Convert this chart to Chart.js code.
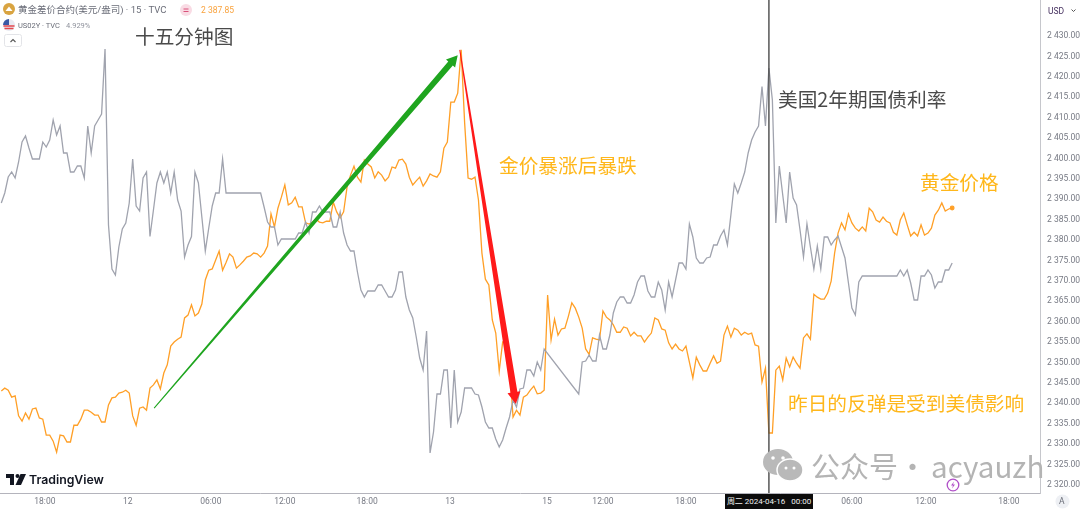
<!DOCTYPE html>
<html>
<head>
<meta charset="utf-8">
<title>十五分钟图</title>
<script src="https://cdn.jsdelivr.net/npm/chart.js@4"></script>
<style>
  html, body { margin: 0; padding: 0; background: #fff; }
  #wrap { position: relative; width: 1080px; height: 510px; overflow: hidden; font-family: Roboto, "Noto Sans CJK SC", sans-serif; }
  #wrap canvas { position: absolute; left: 0; top: 0; }
  .txt { position: absolute; white-space: nowrap; line-height: 1; }
  .big { font-family: "Noto Sans CJK SC", sans-serif; font-size: 19.7px; }
  .dark { color: #4a4a4a; }
  .gold { color: #ffb71b; }
  .legend { font-family: Roboto, "Noto Sans CJK SC", sans-serif; color: #6a6d78; }
  .mark { font-family: "Noto Sans CJK SC", sans-serif; font-size: 29px; color: #b4b4b4; }
  svg { position: absolute; }
</style>
</head>
<body>
<div id="wrap">
  <canvas id="chart" width="1080" height="510"></canvas>

  <!-- legend -->
  <svg style="left:3px;top:3px" width="12" height="12"><circle cx="6" cy="6" r="6" fill="#d9a441"/><path d="M2.5 8h7L6 3.5z" fill="#fff"/></svg>
  <div class="txt legend" style="left:18px;top:5px;font-size:9.5px">黄金差价合约(美元/盎司) · 15 · TVC</div>
  <svg style="left:180px;top:4px" width="12" height="12"><circle cx="6" cy="6" r="6" fill="#f9dbe4"/><path d="M3.5 5h5M3.5 7.5h5" stroke="#d9517a" stroke-width="1"/></svg>
  <div class="txt" style="left:201px;top:6px;font-size:8.5px;color:#f9a23c">2 387.85</div>
  <svg style="left:3px;top:19px" width="12" height="12"><circle cx="6" cy="6" r="6" fill="#e8eaf2"/><path d="M0.5 7h11M1.5 9.5h9" stroke="#e5484d" stroke-width="1.4"/><path d="M6 0a6 6 0 0 0-6 6h6z" fill="#3c5aa6"/></svg>
  <div class="txt legend" style="left:18px;top:22px;font-size:7.5px">US02Y · TVC</div>
  <div class="txt" style="left:66px;top:22px;font-size:7.5px;color:#8f929c">4.929%</div>
  <svg style="left:4px;top:34px" width="18" height="13"><rect x="0.5" y="0.5" width="17" height="12" rx="2" fill="#fff" stroke="#e3e4e8"/><path d="M6.5 8l2.5-2.5 2.5 2.5" fill="none" stroke="#555" stroke-width="1.1"/></svg>

  <!-- notes on the chart -->
  <div class="txt big dark" style="left:135px;top:26px">十五分钟图</div>
  <div class="txt big dark" style="left:778px;top:89px">美国2年期国债利率</div>
  <div class="txt big gold" style="left:499px;top:155px">金价暴涨后暴跌</div>
  <div class="txt big gold" style="left:920px;top:172px">黄金价格</div>
  <div class="txt big gold" style="left:788px;top:393px">昨日的反弹是受到美债影响</div>

  <!-- watermark -->
  <svg style="left:762px;top:448px" width="42" height="36" viewBox="0 0 42 36">
    <ellipse cx="16" cy="14" rx="15" ry="13" fill="#b9b9b9"/>
    <ellipse cx="28" cy="22" rx="13" ry="11" fill="#b9b9b9" stroke="#fff" stroke-width="1.5"/>
    <circle cx="11" cy="10" r="1.8" fill="#fff"/><circle cx="21" cy="10" r="1.8" fill="#fff"/>
    <circle cx="24" cy="20" r="1.5" fill="#fff"/><circle cx="32" cy="20" r="1.5" fill="#fff"/>
  </svg>
  <div class="txt mark" style="left:811px;top:451px">公众号</div>
  <div class="txt mark" style="left:898px;top:451px">·</div>
  <div class="txt mark" style="left:931px;top:451px;font-size:29.6px">acyauzh</div>

  <!-- tradingview mark -->
  <svg style="left:6px;top:474px" width="20" height="12" viewBox="0 0 20 12"><path d="M0 0h8v11H4V4H0z" fill="#131722"/><circle cx="11.5" cy="2" r="2" fill="#131722"/><path d="M14.5 0H20l-5 11H9.5z" fill="#131722"/></svg>
  <div class="txt" style="left:29px;top:474px;font-family:Inter,sans-serif;font-weight:600;font-size:12.3px;color:#131722">TradingView</div>

  <!-- price axis bits -->
  <div class="txt" style="left:1048px;top:7px;font-size:8.5px;color:#45305f">USD</div>
  <svg style="left:1070px;top:8px" width="8" height="6"><path d="M1.5 1.5l2 2 2-2" fill="none" stroke="#555" stroke-width="1"/></svg>
  <svg style="left:1055px;top:494px" width="15" height="15"><circle cx="7.5" cy="7.5" r="7" fill="#eef0f4"/></svg>
  <div class="txt" style="left:1059px;top:497px;font-size:8.5px;color:#6a6d78">A</div>

  <!-- lightning mark -->
  <svg style="left:946px;top:478px" width="14" height="14"><circle cx="7" cy="7" r="5.8" fill="#fff" stroke="#b04fc8" stroke-width="1.3"/><path d="M8 3.5L5 7.5h2l-1 3 3-4H7z" fill="#b04fc8"/></svg>

  <!-- crosshair date -->
  <div class="txt" style="left:725px;top:494px;width:88px;height:15px;background:#0c0c0c;color:#f0f0f0;font-size:8px;line-height:15px;text-align:center">周二 2024-04-16 &nbsp; 00:00</div>
</div>

<script>
// --- Data (one value per 15 minute bar) ---
const goldPrices = [
  2343.0, 2343.7, 2343.2, 2341.5, 2341.8, 2336.9, 2335.6, 2337.6, 2336.1, 2338.6,
  2338.8, 2336.4, 2336.1, 2332.2, 2332.2, 2330.7, 2328.0, 2332.2, 2332.0, 2330.5,
  2330.5, 2334.6, 2334.6, 2336.1, 2338.3, 2338.3, 2337.8, 2337.1, 2337.1, 2335.4,
  2335.4, 2339.6, 2341.3, 2341.5, 2342.5, 2342.7, 2343.2, 2342.5, 2336.9, 2334.6,
  2338.8, 2339.1, 2338.3, 2343.7, 2344.5, 2345.7, 2343.5, 2347.4, 2349.4, 2354.0,
  2355.0, 2355.7, 2356.2, 2360.9, 2361.6, 2364.1, 2361.4, 2362.1, 2364.3, 2370.2,
  2372.6, 2372.9, 2375.1, 2377.3, 2372.6, 2374.5, 2376.6, 2375.8, 2373.1, 2373.9,
  2374.8, 2375.8, 2376.1, 2376.8, 2376.6, 2375.8, 2376.8, 2378.5, 2386.4, 2383.2,
  2387.8, 2390.5, 2393.5, 2388.6, 2389.1, 2390.5, 2388.1, 2388.1, 2384.2, 2383.9,
  2384.4, 2385.1, 2384.4, 2384.2, 2384.6, 2384.6, 2389.3, 2386.9, 2385.4, 2386.9,
  2393.0, 2395.9, 2398.1, 2395.4, 2394.2, 2399.6, 2398.6, 2397.9, 2395.2, 2396.7,
  2395.9, 2394.5, 2395.4, 2397.9, 2397.6, 2399.6, 2399.8, 2398.6, 2395.4, 2393.5,
  2394.5, 2395.4, 2393.2, 2394.5, 2396.2, 2395.7, 2395.4, 2396.7, 2402.5, 2404.0,
  2413.8, 2413.8, 2416.0, 2426.6, 2408.7, 2395.2, 2394.9, 2395.4, 2389.8, 2376.8,
  2370.4, 2369.0, 2360.4, 2357.2, 2347.9, 2355.0, 2355.0, 2349.0, 2336.6, 2338.3,
  2337.1, 2341.5, 2342.0, 2343.2, 2344.2, 2342.3, 2342.5, 2343.2, 2366.5, 2355.5,
  2360.6, 2356.7, 2358.2, 2358.4, 2361.3, 2364.6, 2363.3, 2361.1, 2358.4, 2353.3,
  2352.0, 2356.0, 2355.7, 2355.5, 2362.6, 2361.1, 2360.4, 2359.2, 2357.4, 2357.4,
  2358.7, 2358.4, 2356.5, 2357.4, 2356.5, 2356.5, 2355.0, 2356.2, 2357.2, 2360.9,
  2360.4, 2358.2, 2357.9, 2354.8, 2353.3, 2354.5, 2353.3, 2352.8, 2354.0, 2350.1,
  2346.2, 2351.3, 2349.4, 2347.9, 2347.9, 2349.8, 2351.6, 2349.8, 2350.3, 2356.7,
  2358.9, 2356.2, 2358.4, 2357.9, 2356.7, 2357.4, 2356.9, 2357.2, 2354.3, 2354.0,
  2345.2, 2348.6, 2332.7, 2332.7, 2348.1, 2349.1, 2345.7, 2351.1, 2348.9, 2351.3,
  2349.8, 2348.6, 2356.0, 2357.0, 2355.7, 2366.7, 2366.0, 2365.5, 2365.5, 2367.0,
  2369.9, 2376.8, 2381.7, 2384.2, 2382.5, 2386.4, 2384.2, 2382.9, 2382.2, 2383.2,
  2382.2, 2387.8, 2386.9, 2384.9, 2384.4, 2385.6, 2384.6, 2384.2, 2381.9, 2381.2,
  2384.9, 2386.6, 2383.7, 2381.0, 2381.9, 2381.0, 2383.7, 2381.2, 2381.7, 2382.9,
  2386.1, 2387.3, 2389.1, 2387.1, 2387.6, 2387.85
];

const yieldValues = [
  4.9534, 4.9574, 4.9638, 4.9658, 4.9634, 4.9698, 4.9778, 4.9802, 4.9754, 4.971,
  4.971, 4.971, 4.9778, 4.9758, 4.9786, 4.9866, 4.9806, 4.9842, 4.9734, 4.9734,
  4.9658, 4.9658, 4.9682, 4.9682, 4.9634, 4.9842, 4.9734, 4.9842, 4.9866, 4.989,
  5.015, 4.9446, 4.927, 4.9246, 4.9358, 4.943, 4.9454, 4.9534, 4.971, 4.9522,
  4.9502, 4.9634, 4.9658, 4.94, 4.9506, 4.9614, 4.9658, 4.9614, 4.9658, 4.9574,
  4.9658, 4.9546, 4.9502, 4.9318, 4.9366, 4.94, 4.9658, 4.9614, 4.9478, 4.9342,
  4.9434, 4.9522, 4.9574, 4.9574, 4.971, 4.9574, 4.9574, 4.9574, 4.9574, 4.9574,
  4.9574, 4.9574, 4.9574, 4.9574, 4.9574, 4.9574, 4.9518, 4.9458, 4.9438, 4.9438,
  4.9366, 4.939, 4.939, 4.939, 4.939, 4.939, 4.9414, 4.9414, 4.9458, 4.9414,
  4.9498, 4.9498, 4.9522, 4.9498, 4.9498, 4.9498, 4.9438, 4.9438, 4.9498, 4.9414,
  4.9366, 4.9342, 4.9342, 4.9258, 4.9186, 4.9158, 4.9182, 4.9182, 4.9182, 4.9206,
  4.9206, 4.9182, 4.9158, 4.9158, 4.9186, 4.9258, 4.9258, 4.9158, 4.9106, 4.9074,
  4.8998, 4.8914, 4.8866, 4.9022, 4.8534, 4.8618, 4.877, 4.877, 4.8866, 4.8866,
  4.8634, 4.8866, 4.8658, 4.8698, 4.8794, 4.8794, 4.8794, 4.877, 4.8766, 4.8718,
  4.8658, 4.8634, 4.8634, 4.859, 4.8558, 4.8586, 4.8634, 4.8678, 4.8746, 4.8718,
  4.879, 4.8794, 4.8866, 4.8866, 4.8842, 4.8898, 4.8866, 4.895, null, null,
  null, null, null, null, null, null, null, 4.877, 4.8898, 4.8902,
  4.8926, 4.8902, 4.8902, 4.9006, 4.895, 4.895, 4.9006, 4.9094, 4.9138, 4.9158,
  4.9158, 4.9134, 4.9134, 4.9166, 4.9218, 4.9242, 4.9242, 4.9182, 4.9158, 4.9158,
  4.9218, 4.9186, 4.9106, 4.9218, 4.9158, 4.9226, 4.9294, 4.9294, 4.927, 4.945,
  4.9398, 4.9314, 4.9294, 4.9294, 4.9314, 4.9318, 4.9366, 4.9366, 4.9402, 4.9426,
  4.9366, 4.9486, 4.961, 4.9574, 4.9614, 4.9658, 4.9734, 4.9786, 4.9818, 4.9842,
  5.0, 4.9842, 5.0074, 4.9946, 4.9454, 4.9682, 4.9566, 4.9454, 4.9658, 4.9554,
  4.9526, 4.9426, 4.9318, 4.945, 4.9358, 4.927, 4.9362, 4.927, 4.9398, 4.9398,
  4.9366, 4.9386, 4.9402, 4.9358, 4.9314, 4.9214, 4.9114, 4.9086, 4.9218, 4.9242,
  4.9242, 4.9242, 4.9242, 4.9242, 4.9242, 4.9242, 4.9242, 4.9242, 4.9242, 4.9242,
  4.9266, 4.9242, 4.9266, 4.9214, 4.9146, 4.9146, 4.9242, 4.9242, 4.9266, 4.9246,
  4.9194, 4.9218, 4.9218, 4.9266, 4.9266, 4.9294
];

const timeTickBars   = [12.6, 36.6, 60.6, 82, 105.8, 129.8, 157.8, 174, 198, 246, 267.4, 291.4];
const timeTickLabels = ["18:00", "12", "06:00", "12:00", "18:00", "13", "15", "12:00", "18:00", "06:00", "12:00", "18:00"];
const priceTicks = [2320, 2325, 2330, 2335, 2340, 2345, 2350, 2355, 2360, 2365, 2370, 2375,
  2380, 2385, 2390, 2395, 2400, 2405, 2410, 2415, 2420, 2425, 2430];

const crosshairBar = 222;
const greenArrow = { fromBar: 44.2, fromPrice: 2338.8, toBar: 132, toPrice: 2425.3 };
const redArrow   = { fromBar: 132.6, fromPrice: 2426.6, toBar: 148.8, toPrice: 2339.8 };

// --- Helper: tapered arrow ---
function drawArrow(ctx, x0, y0, x1, y1, w0, w1, headW, headLen, color) {
  const len = Math.hypot(x1 - x0, y1 - y0);
  const ux = (x1 - x0) / len, uy = (y1 - y0) / len;
  const nx = -uy, ny = ux;
  const bx = x1 - ux * headLen, by = y1 - uy * headLen;
  ctx.beginPath();
  ctx.moveTo(x0 + nx * w0 / 2, y0 + ny * w0 / 2);
  ctx.lineTo(bx + nx * w1 / 2, by + ny * w1 / 2);
  ctx.lineTo(bx + nx * headW / 2, by + ny * headW / 2);
  ctx.lineTo(x1, y1);
  ctx.lineTo(bx - nx * headW / 2, by - ny * headW / 2);
  ctx.lineTo(bx - nx * w1 / 2, by - ny * w1 / 2);
  ctx.lineTo(x0 - nx * w0 / 2, y0 - ny * w0 / 2);
  ctx.closePath();
  ctx.fillStyle = color;
  ctx.fill();
}

// --- Helper: no room kept for tick labels hanging over the plot edge ---
function noOverhang(axis) {
  axis.paddingLeft = 0;
  axis.paddingRight = 0;
  axis.paddingTop = 0;
  axis.paddingBottom = 0;
}

// --- Plugin: crosshair and the two hand drawn arrows ---
const overlayPlugin = {
  id: "overlay",
  afterDatasetsDraw(chart) {
    const { ctx, scales, chartArea } = chart;
    const cx = scales.x.getPixelForValue(crosshairBar);
    ctx.save();
    ctx.strokeStyle = "#4a4a4a";
    ctx.lineWidth = 1.4;
    ctx.beginPath();
    ctx.moveTo(cx, chartArea.top);
    ctx.lineTo(cx, chartArea.bottom);
    ctx.stroke();

    const g = greenArrow, r = redArrow;
    drawArrow(ctx,
      scales.x.getPixelForValue(g.fromBar), scales.y.getPixelForValue(g.fromPrice),
      scales.x.getPixelForValue(g.toBar), scales.y.getPixelForValue(g.toPrice),
      1, 6, 12, 11, "#1fa51f");
    drawArrow(ctx,
      scales.x.getPixelForValue(r.fromBar), scales.y.getPixelForValue(r.fromPrice),
      scales.x.getPixelForValue(r.toBar), scales.y.getPixelForValue(r.toPrice),
      1, 7, 13, 12, "#ff1a1a");
    ctx.restore();
  }
};

// --- Chart ---
const toPoints = values => values.map((v, i) => ({ x: i, y: v }));
const lastGold = goldPrices.length - 1;

new Chart(document.getElementById("chart"), {
  type: "line",
  data: {
    datasets: [
      {
        label: "US02Y",
        data: toPoints(yieldValues),
        yAxisID: "y2",
        borderColor: "#a0a3ae",
        borderWidth: 1.3,
        pointRadius: 0,
        tension: 0,
        spanGaps: true
      },
      {
        label: "黄金差价合约",
        data: toPoints(goldPrices),
        yAxisID: "y",
        borderColor: "#ff9f26",
        backgroundColor: "#ff9f26",
        borderWidth: 1.3,
        pointRadius: ctx => ctx.dataIndex === lastGold ? 1.8 : 0,
        tension: 0
      }
    ]
  },
  options: {
    responsive: false,
    animation: false,
    layout: { padding: 0, autoPadding: false },
    plugins: { legend: { display: false }, tooltip: { enabled: false } },
    scales: {
      x: {
        type: "linear",
        min: -0.376,
        max: 300.4,
        grid: { display: false, drawTicks: false },
        border: { display: true, color: "#b4b4bc" },
        afterBuildTicks: axis => { axis.ticks = timeTickBars.map(v => ({ value: v })); },
        afterFit: axis => { axis.height = 17; noOverhang(axis); },
        ticks: {
          autoSkip: false,
          maxRotation: 0,
          padding: 4,
          font: { family: "Roboto", size: 8.5 },
          color: "#777a84",
          callback: (v, i) => timeTickLabels[i]
        }
      },
      y: {
        position: "right",
        min: 2318.0,
        max: 2438.82,
        grid: { display: false, drawTicks: false },
        border: { display: true, color: "#c6c7cc" },
        afterBuildTicks: axis => { axis.ticks = priceTicks.map(v => ({ value: v })); },
        afterFit: axis => { axis.width = 40; noOverhang(axis); },
        ticks: {
          autoSkip: false,
          padding: 7,
          font: { family: "Roboto", size: 8.5 },
          color: "#777a84",
          callback: v => String(v).replace(/^(\d)(\d{3})/, "$1 $2") + ".00"
        }
      },
      y2: {
        display: false,
        min: 4.8374,
        max: 5.0346
      }
    }
  },
  plugins: [overlayPlugin]
});
</script>
</body>
</html>
